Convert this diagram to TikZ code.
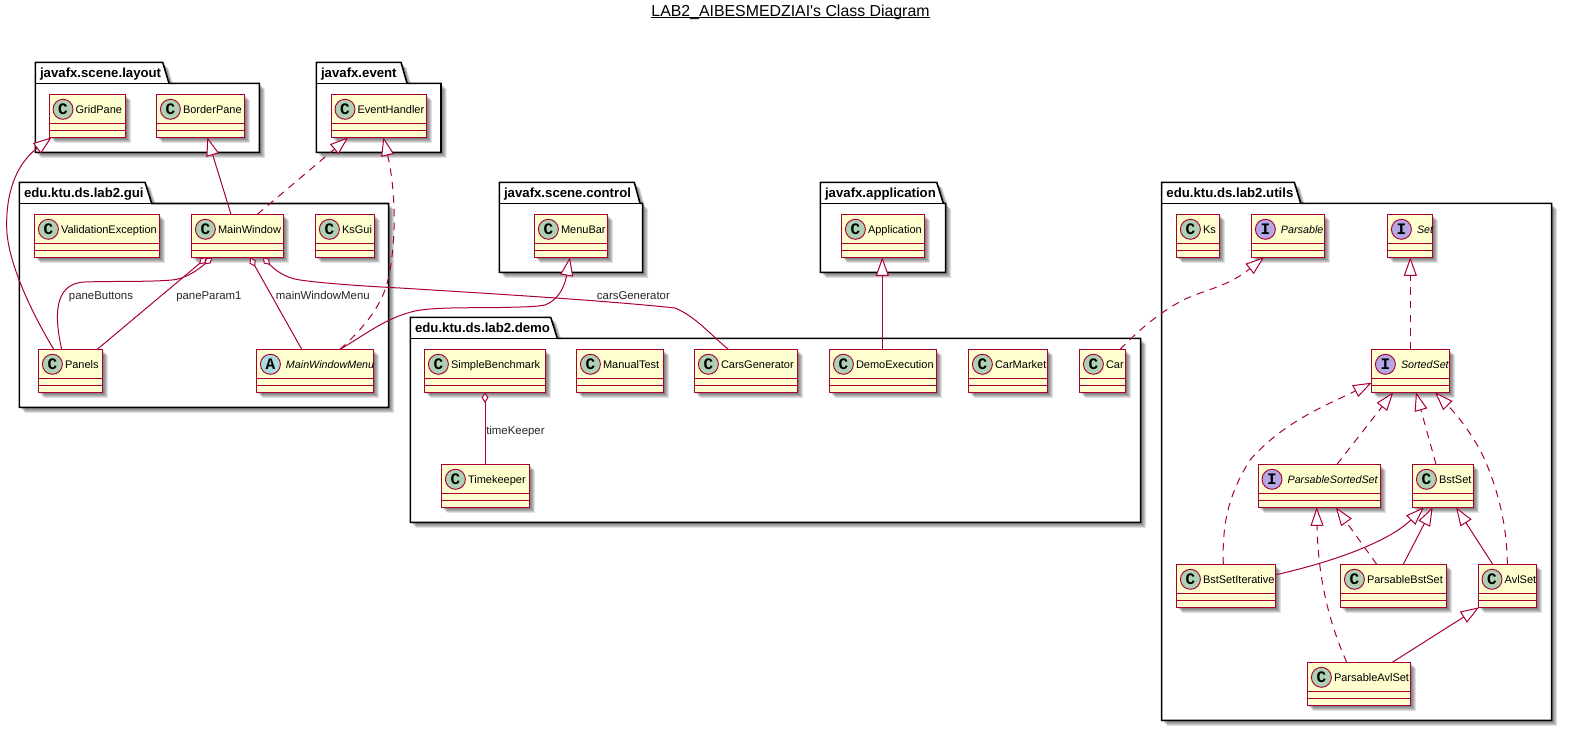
\documentclass[tikz,border=0pt]{standalone}
\usepackage{fontspec}
\setmainfont{Liberation Sans}
\setmonofont{Liberation Mono}
\usetikzlibrary{arrows.meta,calc}
\definecolor{umlred}{HTML}{A80036}
\definecolor{umlfill}{HTML}{FEFECE}
\definecolor{circC}{HTML}{ADD1B2}
\definecolor{circI}{HTML}{B4A7E5}
\definecolor{circA}{HTML}{A9DCDF}
\newcommand{\umlital}{\fontsize{8.05pt}{10pt}\selectfont\itshape}
\tikzset{
  clsbox/.style={draw=umlred,fill=umlfill,line width=1.05pt,inner sep=0pt,outer sep=0pt,anchor=north west,minimum height=32.25pt},
  clssep/.style={draw=umlred,line width=1.05pt},
  clscirc/.style={circle,draw=umlred,line width=.7pt,inner sep=0pt,outer sep=0pt,minimum size=15pt},
  clsname/.style={inner sep=0pt,outer sep=0pt,anchor=base west,font=\fontsize{8.25pt}{10pt}\selectfont},
  pkgbox/.style={draw=black,fill=white,line width=1.15pt,line join=miter},
  pkgname/.style={inner sep=0pt,anchor=base west,font=\fontsize{9.9pt}{12pt}\selectfont\bfseries},
  linklabel/.style={inner sep=0pt,anchor=base west,text=black!85,font=\fontsize{8.55pt}{10pt}\selectfont},
  umlshadow/.style={fill=black,opacity=.12},
  genline/.style={draw=umlred,line width=.75pt,-{Triangle[length=13.9pt,width=9.75pt,fill=white]}},
  realline/.style={genline,dash pattern=on 5.6pt off 4.6pt},
  aggline/.style={draw=umlred,line width=.75pt,-{Diamond[length=8pt,width=5.2pt,fill=white]}},
}
% name x1 y1 x2 letter circlecolour fontswitch label
\newcommand{\umlclass}[8]{%
  \foreach \s in {1.5,2.5,3.5,4.5,5.5}{\fill[umlshadow,shift={(\s,\s)}] (#2,#3) rectangle (#4,#3+43);}
  \pgfmathsetlengthmacro{\boxw}{(#4-#2)*0.75pt}
  \node[clsbox,minimum width=\boxw] (#1) at (#2,#3) {};
  \draw[clssep] ($(#1.north west)+(0,29)$) -- ($(#1.north east)+(0,29)$);
  \draw[clssep] ($(#1.north west)+(0,36)$) -- ($(#1.north east)+(0,36)$);
  \node[clscirc,fill=#6] (#1-circle) at ($(#1.north west)+(13.7,15)$) {\fontsize{12pt}{12pt}\selectfont\ttfamily\bfseries #5};
  \node[clsname] (#1-name) at ($(#1.north west)+(26.3,19)$) {#7 #8};
}
% name x1 ytop ybody ybottom x2 xtab1 xtab2 label
\newcommand{\umlpackage}[9]{%
  \foreach \s in {1.5,2.5,3.5,4.5,5.5}{\fill[umlshadow,shift={(\s,\s)}] (#2,#3) -- (#7,#3) -- (#8,#4) -- (#6,#4) -- (#6,#5) -- (#2,#5) -- cycle;}
  \draw[pkgbox] (#2,#3) -- (#7,#3) -- (#8,#4) -- (#6,#4) -- (#6,#5) -- (#2,#5) -- cycle;
  \draw[pkgbox,fill=none] (#2,#4) -- (#8,#4);
  \node[pkgname] (#1) at (#2+4.5,#3+14.8) {#9};
}
\newsavebox{\titlebox}
\begin{document}
\begin{tikzpicture}[x=0.75pt,y=-0.75pt]
\useasboundingbox[fill=white] (0,0) rectangle (1570,730);
\node[inner sep=0pt,anchor=base] (title) at (790.5,16.7) {\fontsize{11.9pt}{14pt}\selectfont\sbox{\titlebox}{LAB2\_AIBESMEDZIAI\textquotesingle s Class Diagram}\rlap{\usebox{\titlebox}}\rule[-1.25pt]{\wd\titlebox}{.8pt}};

% packages
\umlpackage{pkgLayout}{35.3}{62.3}{83.3}{152.3}{259.3}{162.7}{169}{javafx.scene.layout}
\umlpackage{pkgEvent}{316.3}{62.3}{83.3}{152.3}{441}{401}{407}{javafx.event}
\umlpackage{pkgGui}{19.3}{182.3}{203.5}{407.3}{388.7}{145}{151.7}{edu.ktu.ds.lab2.gui}
\umlpackage{pkgControl}{499.3}{182.3}{203.3}{272.3}{642.7}{634.3}{640}{javafx.scene.control}
\umlpackage{pkgApp}{820.3}{182.3}{203.3}{272.3}{945.7}{936.7}{943.3}{javafx.application}
\umlpackage{pkgDemo}{410.3}{317.3}{338.3}{522.3}{1140.7}{550.7}{557.3}{edu.ktu.ds.lab2.demo}
\umlpackage{pkgUtils}{1161.7}{182.3}{203.3}{720.3}{1551.7}{1294.3}{1300.7}{edu.ktu.ds.lab2.utils}

% classes
\umlclass{GridPane}{49.3}{94.3}{125.7}{C}{circC}{}{GridPane}
\umlclass{BorderPane}{156.7}{94.3}{244.3}{C}{circC}{}{BorderPane}
\umlclass{EventHandler}{331.3}{94.3}{426.3}{C}{circC}{}{EventHandler}
\umlclass{ValidationException}{34.7}{214.3}{159.3}{C}{circC}{}{ValidationException}
\umlclass{MainWindow}{191.7}{214.3}{283.3}{C}{circC}{}{MainWindow}
\umlclass{KsGui}{315.7}{214.3}{374.7}{C}{circC}{}{KsGui}
\umlclass{Panels}{38.7}{349.3}{102.3}{C}{circC}{}{Panels}
\umlclass{MainWindowMenu}{256.7}{349.3}{373.3}{A}{circA}{\umlital}{MainWindowMenu}
\umlclass{MenuBar}{534.7}{214.3}{607.3}{C}{circC}{}{MenuBar}
\umlclass{Application}{841.7}{214.3}{924.3}{C}{circC}{}{Application}
\umlclass{SimpleBenchmark}{424.7}{349.3}{545.3}{C}{circC}{}{SimpleBenchmark}
\umlclass{ManualTest}{576.7}{349.3}{663.3}{C}{circC}{}{ManualTest}
\umlclass{CarsGenerator}{694.7}{349.3}{797.3}{C}{circC}{}{CarsGenerator}
\umlclass{DemoExecution}{829.7}{349.3}{936.3}{C}{circC}{}{DemoExecution}
\umlclass{CarMarket}{968.7}{349.3}{1047.3}{C}{circC}{}{CarMarket}
\umlclass{Car}{1079.7}{349.3}{1125.3}{C}{circC}{}{Car}
\umlclass{Timekeeper}{441.7}{464.3}{529.3}{C}{circC}{}{Timekeeper}
\umlclass{Ks}{1176.7}{214.3}{1219.3}{C}{circC}{}{Ks}
\umlclass{Parsable}{1251.7}{214.3}{1324.3}{I}{circI}{\umlital}{Parsable}
\umlclass{SetI}{1387.7}{214.3}{1432.3}{I}{circI}{\umlital}{Set}
\umlclass{SortedSet}{1371.7}{349.3}{1449.3}{I}{circI}{\umlital}{SortedSet}
\umlclass{ParsableSortedSet}{1258.3}{464.3}{1380.3}{I}{circI}{\umlital}{ParsableSortedSet}
\umlclass{BstSet}{1412.7}{464.3}{1473.3}{C}{circC}{}{BstSet}
\umlclass{BstSetIterative}{1176.7}{564.3}{1275.7}{C}{circC}{}{BstSetIterative}
\umlclass{ParsableBstSet}{1340.7}{564.3}{1446.3}{C}{circC}{}{ParsableBstSet}
\umlclass{AvlSet}{1478.3}{564.3}{1536.7}{C}{circC}{}{AvlSet}
\umlclass{ParsableAvlSet}{1307.7}{662.3}{1410.3}{C}{circC}{}{ParsableAvlSet}

% connectors
\draw[genline] ($(Panels.north west)+(15,0)$) .. controls (30,310) and (7,260) .. (6.7,227) .. controls (6,195) and (15,165) .. ($(GridPane.south west)+(2.4,0)$);
\draw[genline] ($(MainWindow.north west)+(39.3,0)$) -- ($(BorderPane.south west)+(50.6,0)$);
\draw[realline] ($(MainWindow.north west)+(65.7,0)$) -- ($(EventHandler.south west)+(17,0)$);
\draw[realline] ($(MainWindowMenu.north west)+(83.3,0)$) .. controls (365,327) and (382,305) .. (388,280) .. controls (397,240) and (395.5,188) .. ($(EventHandler.south west)+(52,0)$);
\draw[aggline] ($(Panels.north west)+(23,0)$) .. controls (55,320) and (52,283) .. (85,282) .. controls (115,281) and (150,282) .. (172,280) .. controls (185,279) and (198,270) .. ($(MainWindow.south west)+(20.6,0)$);
\draw[aggline] ($(Panels.north west)+(58.6,0)$) -- ($(MainWindow.south west)+(15.3,0)$);
\draw[aggline] ($(MainWindowMenu.north west)+(45,0)$) -- ($(MainWindow.south west)+(58.3,0)$);
\draw[aggline] ($(CarsGenerator.north west)+(33.6,0)$) .. controls (712,336) and (695,316) .. (675,308) .. controls (600,300) and (480,293) .. (400,288) .. controls (360,286) and (320,283) .. (300,280) .. controls (285,278) and (275,270) .. ($(MainWindow.south west)+(71,0)$);
\draw[genline] ($(MainWindowMenu.north west)+(83.3,0)$) .. controls (365,335) and (385,318) .. (415,311) .. controls (435,307) and (470,308) .. (500,307.5) .. controls (520,307) and (535,307) .. (545,305) .. controls (556,301) and (564,290) .. ($(MenuBar.south west)+(35.3,0)$);
\draw[genline] ($(DemoExecution.north west)+(52.6,0)$) -- ($(Application.south west)+(40.6,0)$);
\draw[realline] ($(Car.north west)+(40.3,0)$) .. controls (1132,338) and (1150,318) .. (1183,300) .. controls (1210,288) and (1228,286.3) .. ($(Parsable.south west)+(12.3,0)$);
\draw[realline] ($(SortedSet.north west)+(38.6,0)$) -- ($(SetI.south west)+(22.6,0)$);
\draw[realline] ($(BstSetIterative.north west)+(46.6,0)$) .. controls (1222,525) and (1228,495) .. (1250,460) .. controls (1285,420) and (1331.7,403) .. ($(SortedSet.north west)+(0,33.4)$);
\draw[realline] ($(ParsableSortedSet.north west)+(78.7,0)$) -- ($(SortedSet.south west)+(21.6,0)$);
\draw[realline] ($(BstSet.north west)+(23.3,0)$) -- ($(SortedSet.south west)+(44.3,0)$);
\draw[realline] ($(AvlSet.north west)+(29,0)$) .. controls (1507,525) and (1498,490) .. (1484,458) .. controls (1474,437) and (1459,417) .. ($(SortedSet.south west)+(63.3,0)$);
\draw[realline] ($(ParsableAvlSet.north west)+(39,0)$) .. controls (1330,625) and (1318,580) .. ($(ParsableSortedSet.south west)+(58.4,0)$);
\draw[realline] ($(ParsableBstSet.north west)+(36,0)$) -- ($(ParsableSortedSet.south west)+(77.4,0)$);
\draw[genline] ($(BstSetIterative.north east)+(0,10.4)$) .. controls (1320,565) and (1385,545) .. ($(BstSet.south west)+(11.3,0)$);
\draw[genline] ($(ParsableBstSet.north west)+(62.6,0)$) -- ($(BstSet.south west)+(20,0)$);
\draw[genline] ($(AvlSet.north west)+(14.4,0)$) -- ($(BstSet.south west)+(43.3,0)$);
\draw[genline] ($(ParsableAvlSet.north west)+(84.6,0)$) -- ($(AvlSet.south west)+(0.7,0)$);
\draw[aggline] ($(Timekeeper.north west)+(43.3,0)$) -- ($(SimpleBenchmark.south west)+(60.3,0)$);

% connector labels
\node[linklabel] (lblButtons) at (68.7,299.3) {paneButtons};
\node[linklabel] (lblParam) at (176,299.3) {paneParam1};
\node[linklabel] (lblMenu) at (275.7,299.3) {mainWindowMenu};
\node[linklabel] (lblCars) at (596.7,299.3) {carsGenerator};
\node[linklabel] (lblTime) at (486,434.7) {timeKeeper};
\end{tikzpicture}
\end{document}
